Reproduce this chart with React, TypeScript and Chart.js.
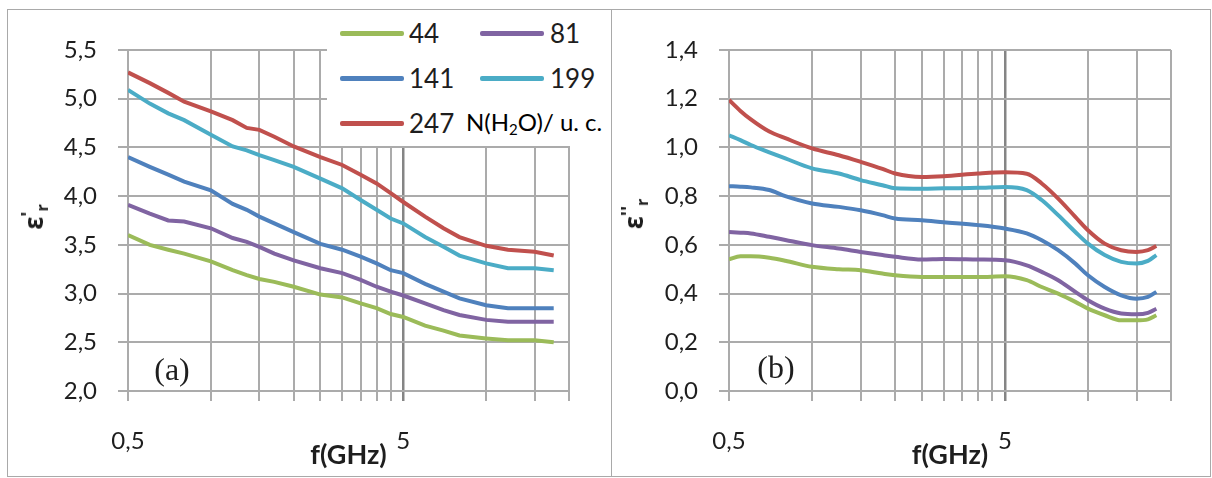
import React, { useEffect, useRef } from 'react';
import { Chart, registerables } from 'chart.js';

Chart.register(...registerables);

// ---- data ----
const seriesLabels = ['44', '81', '141', '199', '247'];
const seriesColors = ['#9BBB59', '#8064A2', '#4F81BD', '#4BACC6', '#C0504D'];

// panel (a): real part
const freqA = [0.5, 0.6, 0.7, 0.8, 1, 1.2, 1.35, 1.5, 1.7, 2, 2.5, 3, 3.5, 4, 4.5, 5, 6, 7, 8, 10, 12, 15, 17.6];
const epsRe44 = [3.60, 3.50, 3.45, 3.41, 3.33, 3.24, 3.19, 3.15, 3.12, 3.07, 2.99, 2.96, 2.90, 2.85, 2.79, 2.76, 2.67, 2.62, 2.57, 2.54, 2.52, 2.52, 2.50];
const epsRe81 = [3.91, 3.82, 3.75, 3.74, 3.67, 3.57, 3.53, 3.48, 3.41, 3.34, 3.26, 3.21, 3.14, 3.07, 3.02, 2.98, 2.90, 2.83, 2.78, 2.73, 2.71, 2.71, 2.71];
const epsRe141 = [4.40, 4.30, 4.22, 4.15, 4.06, 3.92, 3.86, 3.79, 3.72, 3.63, 3.51, 3.45, 3.38, 3.31, 3.24, 3.21, 3.10, 3.02, 2.95, 2.88, 2.85, 2.85, 2.85];
const epsRe199 = [5.09, 4.95, 4.85, 4.78, 4.63, 4.51, 4.47, 4.42, 4.37, 4.30, 4.18, 4.08, 3.96, 3.86, 3.77, 3.72, 3.58, 3.48, 3.39, 3.31, 3.26, 3.26, 3.24];
const epsRe247 = [5.27, 5.16, 5.06, 4.97, 4.87, 4.78, 4.70, 4.68, 4.61, 4.51, 4.40, 4.32, 4.22, 4.13, 4.03, 3.94, 3.79, 3.67, 3.58, 3.49, 3.45, 3.43, 3.39];

// panel (b): imaginary part
const freqB = [0.5, 0.55, 0.6, 0.7, 0.8, 1, 1.25, 1.5, 1.8, 2, 2.5, 3, 4, 5, 6, 6.8, 7.8, 9, 10, 11.5, 13.2, 15, 16.5, 17.7];
const epsIm44 = [0.541, 0.553, 0.553, 0.547, 0.535, 0.510, 0.500, 0.496, 0.482, 0.475, 0.468, 0.468, 0.468, 0.471, 0.455, 0.427, 0.400, 0.366, 0.338, 0.311, 0.290, 0.290, 0.294, 0.311];
const epsIm81 = [0.653, 0.650, 0.647, 0.633, 0.620, 0.599, 0.585, 0.571, 0.558, 0.551, 0.540, 0.542, 0.540, 0.537, 0.516, 0.489, 0.455, 0.407, 0.373, 0.338, 0.318, 0.315, 0.321, 0.338];
const epsIm141 = [0.841, 0.839, 0.836, 0.825, 0.800, 0.770, 0.756, 0.742, 0.722, 0.708, 0.701, 0.693, 0.681, 0.667, 0.647, 0.619, 0.578, 0.523, 0.475, 0.427, 0.393, 0.379, 0.386, 0.407];
const epsIm199 = [1.050, 1.030, 1.010, 0.980, 0.955, 0.914, 0.893, 0.866, 0.845, 0.832, 0.830, 0.832, 0.834, 0.838, 0.825, 0.784, 0.722, 0.653, 0.605, 0.558, 0.530, 0.523, 0.534, 0.558];
const epsIm247 = [1.195, 1.150, 1.115, 1.065, 1.038, 0.996, 0.968, 0.941, 0.912, 0.893, 0.879, 0.882, 0.893, 0.898, 0.892, 0.852, 0.790, 0.715, 0.660, 0.605, 0.578, 0.571, 0.578, 0.595];

const xGridValues = [0.5, 1, 1.5, 2, 2.5, 3, 3.5, 4, 4.5, 5, 10, 15, 20];
const xLabelMap: Record<string, string> = { '0.5': '0,5', '5': '5' };

const FONT = 'Lato, "Open Sans", sans-serif';
const TEXT = '#1e1e1e';
const GRID = '#ababab';

function fmt(v: number) {
  return Number(v).toFixed(1).replace('.', ',');
}

function makeConfig(
  freqs: number[],
  series: number[][],
  yMin: number,
  yMax: number,
  yStep: number,
  yAxisWidth: number,
  padRight: number,
  smooth: boolean
): any {
  return {
    type: 'line',
    data: {
      datasets: series.map((vals, i) => ({
        label: seriesLabels[i],
        data: freqs.map((f, j) => ({ x: f, y: vals[j] })),
        borderColor: seriesColors[i],
        backgroundColor: seriesColors[i],
        borderWidth: 4,
        pointRadius: 0,
        fill: false,
        tension: smooth ? 0.4 : 0,
        cubicInterpolationMode: smooth ? 'monotone' : 'default',
      })),
    },
    options: {
      responsive: false,
      animation: false,
      layout: { padding: { left: 0, right: padRight, top: 50, bottom: 0 } },
      plugins: { legend: { display: false }, tooltip: { enabled: false } },
      scales: {
        x: {
          type: 'logarithmic',
          min: 0.5,
          max: 20,
          afterBuildTicks: (s: any) => {
            s.ticks = xGridValues.map((v) => ({ value: v }));
          },
          afterFit: (s: any) => {
            s.height = 87;
          },
          ticks: {
            autoSkip: false,
            maxRotation: 0,
            minRotation: 0,
            padding: 26,
            color: TEXT,
            font: { family: FONT, size: 24 },
            callback: (v: any) => xLabelMap[String(v)] ?? '',
          },
          grid: {
            color: (ctx: any) => (ctx.tick && ctx.tick.value === 5 ? '#858585' : GRID),
            lineWidth: (ctx: any) => (ctx.tick && ctx.tick.value === 5 ? 2.5 : 2),
            tickLength: 10,
          },
          border: { color: GRID, width: 2 },
          title: {
            display: true,
            text: 'f(GHz)',
            color: TEXT,
            font: { family: FONT, size: 27, weight: 'bold' },
            padding: { top: 0, bottom: 7 },
          },
        },
        y: {
          min: yMin,
          max: yMax,
          afterFit: (s: any) => {
            s.width = yAxisWidth;
          },
          ticks: {
            stepSize: yStep,
            padding: 21,
            color: TEXT,
            font: { family: FONT, size: 24 },
            callback: (v: any) => fmt(v),
          },
          grid: { color: GRID, lineWidth: 2, tickLength: 10 },
          border: { color: GRID, width: 2 },
        },
      },
    },
  };
}

function ChartCanvas(props: { left: number; width: number; config: () => any }) {
  const ref = useRef<HTMLCanvasElement | null>(null);
  useEffect(() => {
    if (!ref.current) return;
    const chart = new Chart(ref.current, props.config());
    return () => chart.destroy();
  }, []);
  return (
    <canvas
      ref={ref}
      width={props.width}
      height={478}
      style={{ position: 'absolute', left: props.left, top: 0, width: props.width, height: 478, display: 'block' }}
    />
  );
}

const abs = (x: number, y: number): React.CSSProperties => ({ position: 'absolute', left: x, top: y });

function YTitle(props: { x: number; y: number; primes: string }) {
  return (
    <div
      style={{
        position: 'absolute',
        left: props.x,
        top: props.y,
        transform: 'translate(-50%, -50%) rotate(-90deg)',
        whiteSpace: 'nowrap',
        font: 'bold 26px "Noto Sans", "DejaVu Sans", sans-serif',
        color: TEXT,
        lineHeight: '26px',
      }}
    >
      ε<span style={{ fontSize: '19px', verticalAlign: '8px' }}>{props.primes}</span>
      <span style={{ fontSize: '16px', verticalAlign: '-5px' }}>r</span>
    </div>
  );
}

export default function App() {
  const legendRows = [33, 78, 123];
  const legendLineX = [340, 480];
  const legendTextX = [409, 550];
  return (
    <div style={{ position: 'absolute', left: 0, top: 0, width: 1212, height: 478, background: '#fff', overflow: 'hidden' }}>
      <ChartCanvas
        left={0}
        width={612}
        config={() =>
          makeConfig(freqA, [epsRe44, epsRe81, epsRe141, epsRe199, epsRe247], 2, 5.5, 0.5, 128, 43, false)
        }
      />
      <ChartCanvas
        left={612}
        width={600}
        config={() =>
          makeConfig(freqB, [epsIm44, epsIm81, epsIm141, epsIm199, epsIm247], 0, 1.4, 0.2, 117, 41, true)
        }
      />

      {/* panel frames */}
      <div style={{ ...abs(7, 9), width: 605, height: 468, border: '1px solid #a9a9a9', boxSizing: 'border-box' }} />
      <div style={{ ...abs(611, 9), width: 600, height: 468, border: '1px solid #a9a9a9', boxSizing: 'border-box' }} />

      {/* legend */}
      <div style={{ ...abs(327, 11), width: 282, height: 135, background: '#fff' }} />
      {seriesLabels.map((lab, i) => {
        const col = i % 2;
        const row = Math.floor(i / 2);
        const y = legendRows[row];
        return (
          <React.Fragment key={lab}>
            <div
              style={{
                ...abs(legendLineX[col], y - 2),
                width: 64,
                height: 5,
                background: seriesColors[i],
                borderRadius: 2,
              }}
            />
            <div
              style={{
                ...abs(legendTextX[col], y - 16),
                height: 32,
                lineHeight: '32px',
                font: `26px ${FONT}`,
                color: TEXT,
                whiteSpace: 'nowrap',
              }}
            >
              {lab}
            </div>
          </React.Fragment>
        );
      })}
      <div
        style={{
          ...abs(466, 123 - 16),
          height: 32,
          lineHeight: '32px',
          font: `24px ${FONT}`,
          color: '#000',
          whiteSpace: 'nowrap',
        }}
      >
        N(H<sub style={{ fontSize: '15px', verticalAlign: '-4px' }}>2</sub>O)/ u. c.
      </div>

      {/* panel tags */}
      <div
        style={{
          position: 'absolute',
          left: 172,
          top: 369,
          transform: 'translate(-50%, -50%)',
          font: '32px "Liberation Serif", "Times New Roman", serif',
          color: TEXT,
          whiteSpace: 'nowrap',
        }}
      >
        (a)
      </div>
      <div
        style={{
          position: 'absolute',
          left: 776,
          top: 367,
          transform: 'translate(-50%, -50%)',
          font: '32px "Liberation Serif", "Times New Roman", serif',
          color: TEXT,
          whiteSpace: 'nowrap',
        }}
      >
        (b)
      </div>

      <YTitle x={35} y={217} primes={"'"} />
      <YTitle x={635} y={214} primes={"''"} />
    </div>
  );
}
